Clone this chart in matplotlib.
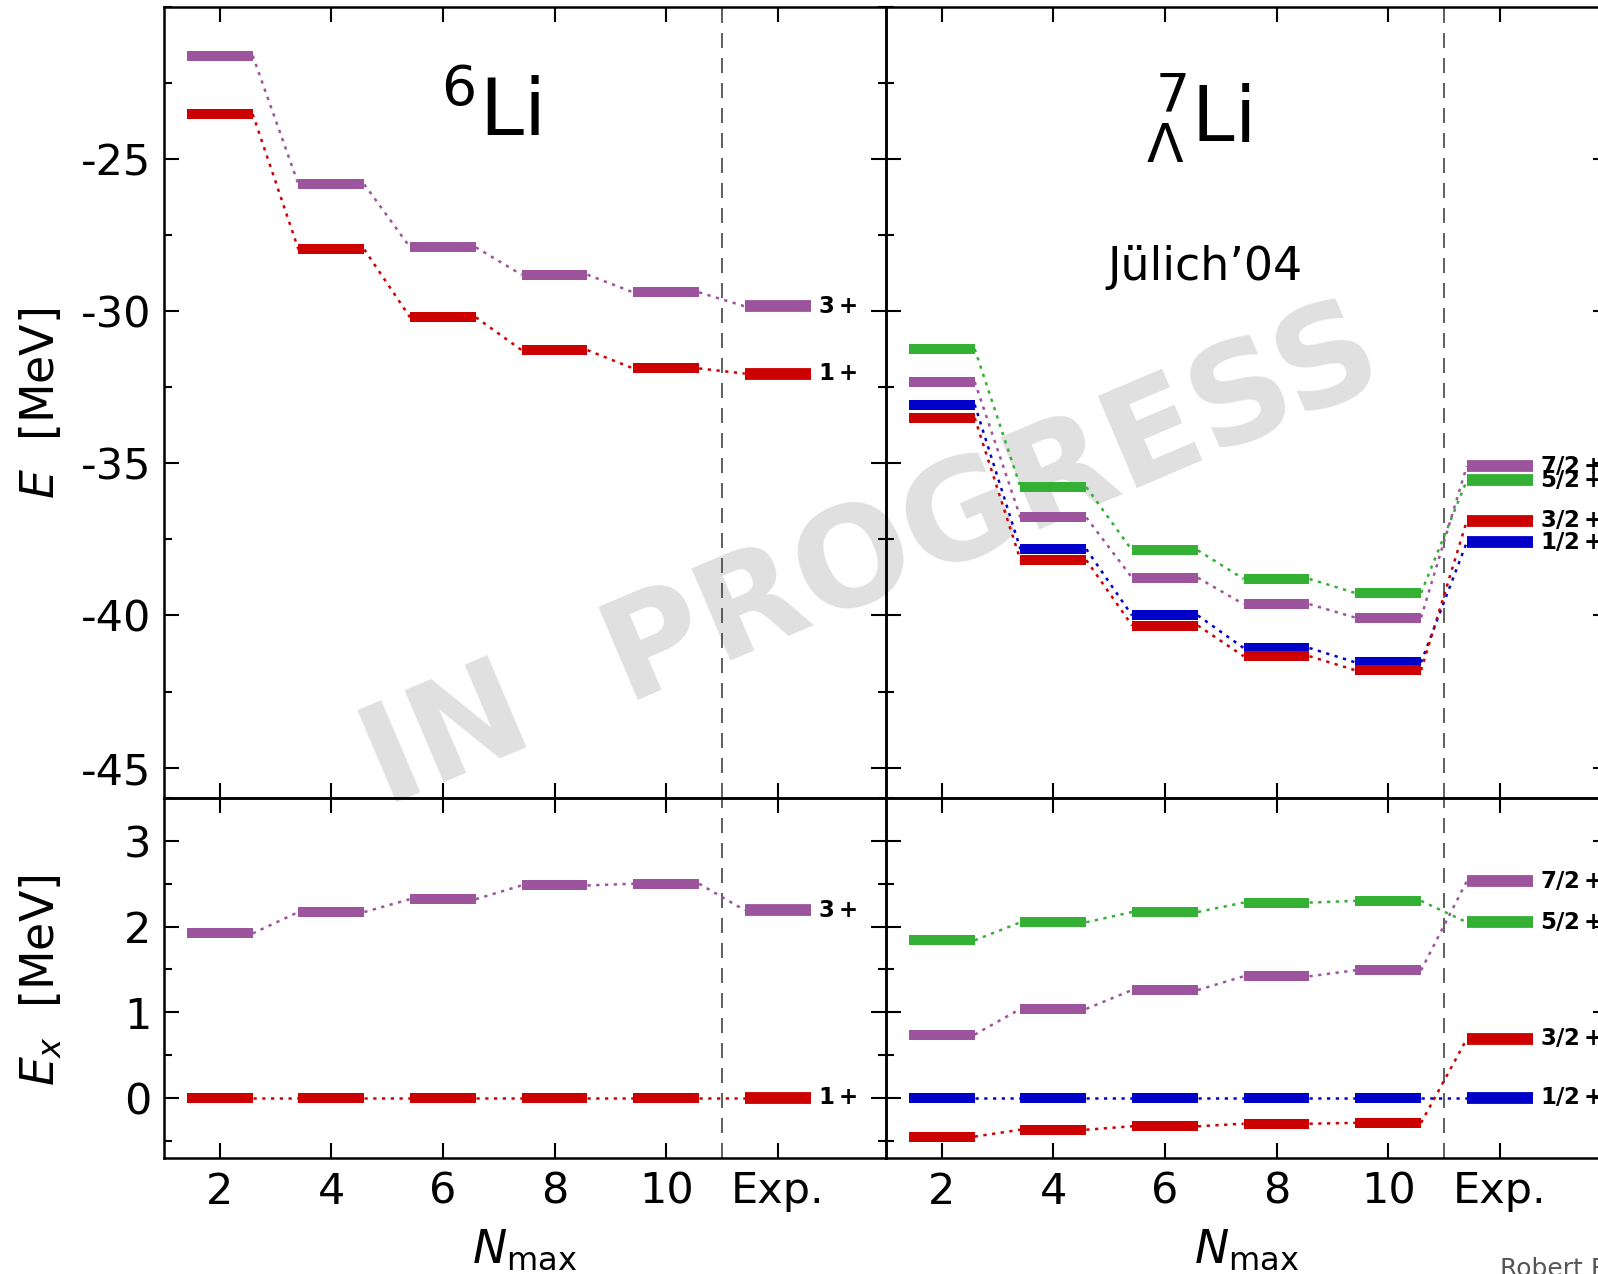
import numpy as np
import matplotlib.pyplot as plt
from matplotlib.ticker import MultipleLocator

# N_max values, experiment is drawn at slot 12
nmax = [2, 4, 6, 8, 10, 12]
xtick_labels = ["2", "4", "6", "8", "10", "Exp."]

# 6Li absolute energies [MeV]
li6_3p = [-21.6, -25.83, -27.9, -28.8, -29.38, -29.84]
li6_1p = [-23.52, -27.97, -30.2, -31.28, -31.88, -32.05]
# 6Li excitation energies [MeV]
li6_ex_3p = [1.92, 2.17, 2.32, 2.48, 2.50, 2.19]
li6_ex_1p = [0.0, 0.0, 0.0, 0.0, 0.0, 0.0]

# hypernucleus 7_Lambda Li absolute energies [MeV]
hli7_5p = [-31.24, -35.78, -37.86, -38.80, -39.26, -35.56]
hli7_7p = [-32.32, -36.78, -38.76, -39.63, -40.07, -35.09]
hli7_1p = [-33.07, -37.82, -40.0, -41.07, -41.54, -37.59]
hli7_3p = [-33.51, -38.18, -40.33, -41.34, -41.80, -36.89]
# excitation energies [MeV]
hli7_ex_5p = [1.84, 2.05, 2.17, 2.28, 2.30, 2.05]
hli7_ex_7p = [0.74, 1.04, 1.26, 1.42, 1.49, 2.53]
hli7_ex_1p = [0.0, 0.0, 0.0, 0.0, 0.0, 0.0]
hli7_ex_3p = [-0.45, -0.37, -0.33, -0.30, -0.29, 0.69]

PURPLE = "#9c549c"
RED = "#cc0000"
GREEN = "#34b034"
BLUE = "#0000c8"

HW = 0.59


def draw_levels(ax, vals, color, label=None):
    x = np.array(nmax, dtype=float)
    v = np.array(vals)
    ax.hlines(v[:-1], x[:-1] - HW, x[:-1] + HW, colors=color, lw=7.2, zorder=3)
    ax.hlines(v[-1:], x[-1:] - HW, x[-1:] + HW, colors=color, lw=8.5, zorder=3)
    for i in range(len(x) - 1):
        ax.plot([x[i] + HW, x[i + 1] - HW], [v[i], v[i + 1]], color=color,
                lw=1.8, ls=(0, (1.3, 2.2)), zorder=2)
    if label:
        ax.annotate(label, (x[-1] + HW, v[-1]), xytext=(5, 0),
                    textcoords="offset points", va="center", ha="left",
                    fontsize=16.5, annotation_clip=False)


def style(ax, top, show_ylabels, show_xlabels):
    ax.set_facecolor("none")
    ax.set_xlim(1.0, 13.94)
    ax.set_xticks(nmax)
    ax.set_xticklabels(xtick_labels if show_xlabels else [])
    if top:
        ax.set_ylim(-46, -20)
        ax.yaxis.set_minor_locator(MultipleLocator(2.5))
        ax.set_yticks([-25, -30, -35, -40, -45])
        if show_ylabels:
            ax.set_yticklabels(["-25", "-30", "-35", "-40", "-45"])
    else:
        ax.set_ylim(-0.7, 3.5)
        ax.set_yticks([0, 1, 2, 3])
        ax.yaxis.set_minor_locator(MultipleLocator(0.5))
    if not show_ylabels:
        ax.set_yticklabels([])
    ax.tick_params(which="both", direction="in", top=True, right=True,
                   width=1.5, labelsize=31)
    ax.tick_params(which="major", length=11, pad=9)
    ax.tick_params(which="minor", length=6)
    for s in ax.spines.values():
        s.set_linewidth(1.8)
    ax.axvline(11, color="#444444", lw=1.2, ls=(0, (9, 6)), zorder=1)


W, H = 1598, 1274
fig = plt.figure(figsize=(W / 100, H / 100), dpi=100)

x_l, x_r, wpan = 164 / W, 886 / W, 722 / W
y_top, h_top = (H - 798) / H, 791 / H
y_bot, h_bot = (H - 1158) / H, 360 / H

ax_tl = fig.add_axes([x_l, y_top, wpan, h_top])
ax_bl = fig.add_axes([x_l, y_bot, wpan, h_bot])
ax_tr = fig.add_axes([x_r, y_top, wpan, h_top])
ax_br = fig.add_axes([x_r, y_bot, wpan, h_bot])

style(ax_tl, True, True, False)
style(ax_bl, False, True, True)
style(ax_tr, True, False, False)
style(ax_br, False, False, True)

draw_levels(ax_tl, li6_3p, PURPLE, r"$\mathbf{3+}$")
draw_levels(ax_tl, li6_1p, RED, r"$\mathbf{1+}$")
draw_levels(ax_bl, li6_ex_3p, PURPLE, r"$\mathbf{3+}$")
draw_levels(ax_bl, li6_ex_1p, RED, r"$\mathbf{1+}$")

draw_levels(ax_tr, hli7_5p, GREEN, r"$\mathbf{5/2+}$")
draw_levels(ax_tr, hli7_7p, PURPLE, r"$\mathbf{7/2+}$")
draw_levels(ax_tr, hli7_1p, BLUE, r"$\mathbf{1/2+}$")
draw_levels(ax_tr, hli7_3p, RED, r"$\mathbf{3/2+}$")
draw_levels(ax_br, hli7_ex_5p, GREEN, r"$\mathbf{5/2+}$")
draw_levels(ax_br, hli7_ex_7p, PURPLE, r"$\mathbf{7/2+}$")
draw_levels(ax_br, hli7_ex_3p, RED, r"$\mathbf{3/2+}$")
draw_levels(ax_br, hli7_ex_1p, BLUE, r"$\mathbf{1/2+}$")

# nucleus names
fig.text(490 / W, 1 - 114 / H, r"$^{6}$Li", fontsize=57, ha="center", va="center")
fig.text(1198 / W, 1 - 118 / H, r"$^{\,7}_{\Lambda}$Li", fontsize=55, ha="center", va="center")
fig.text(1205 / W, 1 - 267 / H, "Jülich’04", fontsize=33, ha="center", va="center")

# axis labels
fig.text(41 / W, 1 - 403 / H, r"$E$  [MeV]", fontsize=33, rotation=90, ha="center", va="center")
fig.text(41 / W, 1 - 980 / H, r"$E_x$  [MeV]", fontsize=33, rotation=90, ha="center", va="center")
fig.text(525 / W, 1 - 1250 / H, r"$N_{\mathrm{max}}$", fontsize=33, ha="center", va="center")
fig.text(1247 / W, 1 - 1250 / H, r"$N_{\mathrm{max}}$", fontsize=33, ha="center", va="center")

# watermark behind the levels
fig.text(872 / W, 1 - 560 / H, "IN  PROGRESS", fontsize=99, fontweight="bold",
         color="#e0e0e0", rotation=23, ha="center", va="center",
         rotation_mode="anchor", zorder=-1)

fig.text(1500 / W, 1 - 1257 / H, "Robert Roth", fontsize=18, color="#555555",
         ha="left", va="top")

fig.savefig("out.png", dpi=100)
